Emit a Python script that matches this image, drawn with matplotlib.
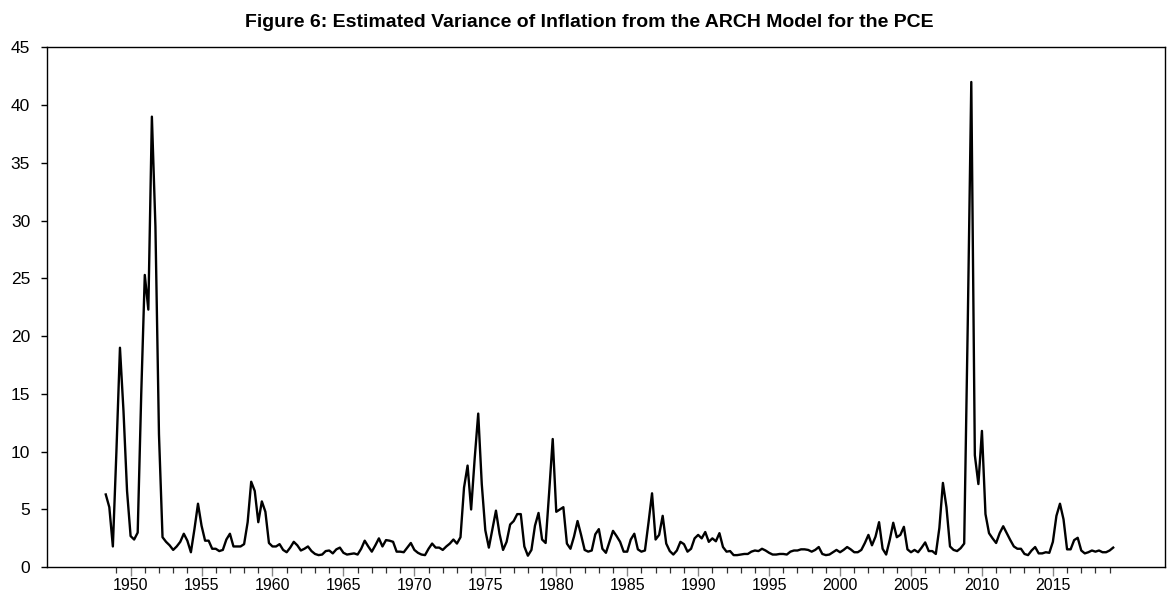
import numpy as np
import matplotlib
matplotlib.use('Agg')
import matplotlib.pyplot as plt
from matplotlib.ticker import FixedLocator

# === DATA (quarterly, first obs 1948Q2) ===
start_year = 1948.25
variance = [
    6.3, 5.2, 1.8,              # 1948 Q2-Q4
    10.0, 19.0, 13.5, 6.6,      # 1949
    2.7, 2.4, 3.0, 15.0,        # 1950
    25.3, 22.3, 39.0, 29.5,     # 1951
    11.5, 2.6, 2.2, 1.9,        # 1952
    1.5, 1.8, 2.2, 2.9,         # 1953
    2.3, 1.3, 3.3, 5.5,         # 1954
    3.6, 2.3, 2.3, 1.6,         # 1955
    1.6, 1.4, 1.5, 2.4,         # 1956
    2.9, 1.8, 1.8, 1.8,         # 1957
    2.0, 3.9, 7.4, 6.6,         # 1958
    3.9, 5.7, 4.8, 2.1,         # 1959
    1.8, 1.8, 2.0, 1.5,         # 1960
    1.3, 1.7, 2.2, 1.9,         # 1961
    1.45, 1.6, 1.8, 1.4,        # 1962
    1.15, 1.05, 1.1, 1.4,       # 1963
    1.45, 1.2, 1.55, 1.7,       # 1964
    1.25, 1.1, 1.15, 1.2,       # 1965
    1.1, 1.6, 2.3, 1.8,         # 1966
    1.35, 1.9, 2.5, 1.8,        # 1967
    2.35, 2.3, 2.2, 1.35,       # 1968
    1.35, 1.3, 1.7, 2.1,        # 1969
    1.5, 1.25, 1.1, 1.05,       # 1970
    1.6, 2.05, 1.7, 1.7,        # 1971
    1.5, 1.8, 2.05, 2.4,        # 1972
    2.05, 2.6, 6.9, 8.8,        # 1973
    5.0, 9.4, 13.3, 7.2,        # 1974
    3.2, 1.7, 3.3, 4.9,         # 1975
    2.9, 1.5, 2.2, 3.7,         # 1976
    4.0, 4.6, 4.6, 1.8,         # 1977
    1.0, 1.5, 3.6, 4.7,         # 1978
    2.4, 2.1, 6.5, 11.1,        # 1979
    4.8, 5.0, 5.2, 2.05,        # 1980
    1.6, 2.65, 4.0, 2.8,        # 1981
    1.5, 1.35, 1.45, 2.85,      # 1982
    3.3, 1.6, 1.25, 2.2,        # 1983
    3.15, 2.7, 2.2, 1.35,       # 1984
    1.35, 2.4, 2.9, 1.55,       # 1985
    1.35, 1.45, 3.85, 6.4,      # 1986
    2.4, 2.8, 4.45, 2.05,       # 1987
    1.4, 1.1, 1.45, 2.2,        # 1988
    2.0, 1.35, 1.6, 2.5,        # 1989
    2.8, 2.5, 3.05, 2.2,        # 1990
    2.5, 2.25, 2.95, 1.75,      # 1991
    1.35, 1.4, 1.05, 1.05,      # 1992
    1.1, 1.15, 1.15, 1.35,      # 1993
    1.45, 1.4, 1.6, 1.45,       # 1994
    1.25, 1.1, 1.1, 1.15,       # 1995
    1.15, 1.1, 1.35, 1.45,      # 1996
    1.45, 1.55, 1.55, 1.5,      # 1997
    1.35, 1.5, 1.75, 1.15,      # 1998
    1.05, 1.1, 1.3, 1.5,        # 1999
    1.3, 1.5, 1.75, 1.55,       # 2000
    1.3, 1.3, 1.5, 2.1,         # 2001
    2.8, 1.9, 2.65, 3.9,        # 2002
    1.6, 1.1, 2.35, 3.85,       # 2003
    2.6, 2.8, 3.5, 1.55,        # 2004
    1.3, 1.5, 1.3, 1.7,         # 2005
    2.15, 1.4, 1.4, 1.15,       # 2006
    3.4, 7.3, 5.2, 1.8,         # 2007
    1.5, 1.4, 1.65, 2.05,       # 2008
    21.0, 42.0, 9.7, 7.2,       # 2009
    11.8, 4.6, 2.95, 2.5,       # 2010
    2.1, 2.95, 3.55, 2.95,      # 2011
    2.35, 1.8, 1.6, 1.6,        # 2012
    1.15, 1.05, 1.45, 1.75,     # 2013
    1.2, 1.2, 1.3, 1.25,        # 2014
    2.2, 4.45, 5.5, 4.15,       # 2015
    1.55, 1.55, 2.35, 2.55,     # 2016
    1.45, 1.2, 1.3, 1.45,       # 2017
    1.35, 1.45, 1.3, 1.3,       # 2018
    1.45, 1.7,                  # 2019 Q1-Q2
]
year_labels = [1950, 1955, 1960, 1965, 1970, 1975, 1980, 1985,
               1990, 1995, 2000, 2005, 2010, 2015]
y_ticks = [0, 5, 10, 15, 20, 25, 30, 35, 40, 45]
title = 'Figure 6: Estimated Variance of Inflation from the ARCH Model for the PCE'

dates = start_year + np.arange(len(variance)) / 4.0

# === PLOT ===
plt.rcParams['font.family'] = ['Liberation Sans', 'DejaVu Sans']

fig = plt.figure(figsize=(11.72, 5.99), dpi=100)
ax = fig.add_axes([0.040, 0.053, 0.954, 0.868])

ax.plot(dates, variance, color='black', lw=1.7)

ax.set_xlim(1944.1, 2022.9)
ax.set_ylim(0, 45)

ax.xaxis.set_major_locator(FixedLocator(year_labels))
ax.xaxis.set_minor_locator(FixedLocator(list(range(1949, 2020))))
ax.set_xticklabels([str(y) for y in year_labels])
ax.set_yticks(y_ticks)
ax.set_yticklabels([str(v) for v in y_ticks])

ax.tick_params(axis='x', which='major', direction='out', length=6.5, width=1,
               color='#888888', labelsize=11.5, pad=1.5)
ax.tick_params(axis='x', which='minor', direction='out', length=4.5, width=0.9,
               color='#333333')
ax.tick_params(axis='y', direction='out', length=4, width=1,
               labelsize=12.5, pad=8)

for s in ax.spines.values():
    s.set_linewidth(1.0)
    s.set_color('black')

# title is centred on the whole figure, not on the axes
fig.text(0.503, 0.962, title, ha='center', va='center',
         fontsize=14, fontweight='bold')

fig.savefig('out.png', dpi=100)
